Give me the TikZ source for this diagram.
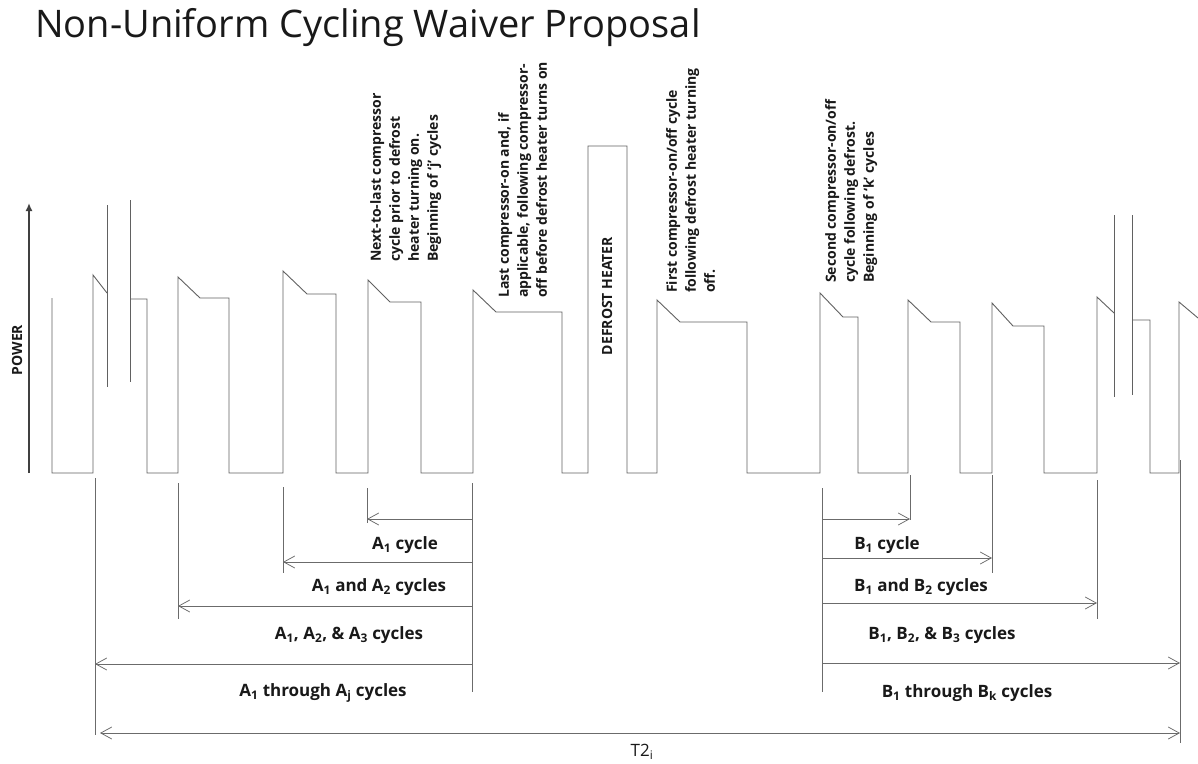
\documentclass[tikz,border=0pt]{standalone}
\usepackage{fontspec}
\setmainfont{Open Sans}
\usetikzlibrary{arrows.meta}
\begin{document}
\begin{tikzpicture}[x=1pt,y=-1pt,
  wave/.style={draw=black!62, line width=0.9pt, line join=miter},
  ext/.style={draw=black!58, line width=0.75pt},
  dim/.style={draw=black!58, line width=0.75pt, -{Straight Barb[length=11pt,width=12pt]}},
  ddim/.style={draw=black!58, line width=0.75pt, {Straight Barb[length=11pt,width=12pt]}-{Straight Barb[length=11pt,width=12pt]}},
  lbl/.style={font=\bfseries\fontsize{17}{19}\selectfont, inner sep=0pt, text=black!90},
  note/.style={rotate=90, anchor=north west, align=left, inner sep=0pt, text=black!90,
               font=\bfseries\fontsize{14}{19}\selectfont},
]
\useasboundingbox (0,0) rectangle (1198,763);
\fill[white] (0,0) rectangle (1198,763);

% title
\node[anchor=base west, inner sep=0pt, text=black!90, font=\fontsize{38}{42}\selectfont] (title) at (35,37) {Non-Uniform Cycling Waiver Proposal};

% axis
\coordinate (axb) at (29,473);
\coordinate (axt) at (29,203);
\draw[line width=1.8pt, black!75, -{Latex[length=8pt,width=7pt]}] (axb) -- (axt);
\node[rotate=90, inner sep=0pt, text=black!90, font=\bfseries\fontsize{14}{16}\selectfont] (power) at (17,350) {POWER};

% waveform
\draw[wave] (52,298) -- (52,473) -- (93,473) -- (93,275) -- (107,293);
\draw[wave] (107,205) -- (107,387);
\draw[wave] (130,200) -- (130,382);
\draw[wave] (130,299) -- (147,299) -- (147,473) -- (178,473) -- (178,277) -- (200,298) -- (229,298)
  -- (229,473) -- (283,473) -- (283,271) -- (307,294) -- (336,294) -- (336,473)
  -- (368,473) -- (368,280) -- (390,302) -- (421,302) -- (421,473)
  -- (473,473) -- (473,290) -- (496,312) -- (562,312) -- (562,473)
  -- (588,473) -- (588,146) -- (627,146) -- (627,473)
  -- (657,473) -- (657,300) -- (680,322) -- (747,322) -- (747,473)
  -- (820,473) -- (820,293) -- (843,317) -- (858,317) -- (858,473)
  -- (908,473) -- (908,300) -- (931,322) -- (960,322) -- (960,473)
  -- (992,473) -- (992,303) -- (1013,326) -- (1044,326) -- (1044,473)
  -- (1097,473) -- (1097,297) -- (1114,313);
\draw[wave] (1114,215) -- (1114,397);
\draw[wave] (1132,215) -- (1132,395);
\draw[wave] (1132,320) -- (1150,320) -- (1150,473) -- (1179,473) -- (1179,302) -- (1198,318);

% annotations
\node[note] (n1) at (370,262) {Next-to-last compressor\\cycle prior to defrost\\heater turning on.\\Beginning of ‘j’ cycles};
\node[note] (n2) at (498,298) {Last compressor-on and, if\\applicable, following compressor-\\off before defrost heater turns on};
\node[rotate=90, inner sep=0pt, text=black!90, font=\bfseries\fontsize{14}{19}\selectfont] (dh) at (607,296) {DEFROST HEATER};
\node[note] (n3) at (666,293) {First compressor-on/off cycle\\following defrost heater turning\\off.};
\node[note] (n4) at (825,283) {Second compressor-on/off\\cycle following defrost.\\Beginning of ‘k’ cycles};

% extension lines
\foreach \x/\t/\b [count=\i] in {95/478/735, 178/483/619, 283/487/573, 367/488/523, 472/483/692,
                                 822/488/692, 910/475/520, 992/475/573, 1097/480/619, 1180/460/743}
  {\draw[ext] (\x,\t) coordinate (e\i t) -- (\x,\b) coordinate (e\i b);}

% A side
\draw[dim] (e5t |- 0,519) -- (e4t |- 0,519);
\draw[dim] (e5t |- 0,562) -- (e3t |- 0,562);
\draw[dim] (e5t |- 0,606) -- (e2t |- 0,606);
\draw[dim] (e5t |- 0,664) -- (e1t |- 0,664);
\node[lbl] (la1) at (405,545) {A\textsubscript{1} cycle};
\node[lbl] (la2) at (379,587) {A\textsubscript{1} and A\textsubscript{2} cycles};
\node[lbl] (la3) at (349,635) {A\textsubscript{1}, A\textsubscript{2}, \& A\textsubscript{3} cycles};
\node[lbl] (la4) at (323,693) {A\textsubscript{1} through A\textsubscript{j} cycles};

% B side
\draw[dim] (e6t |- 0,519) -- (e7t |- 0,519);
\draw[dim] (e6t |- 0,558) -- (e8t |- 0,558);
\draw[dim] (e6t |- 0,603) -- (e9t |- 0,603);
\draw[dim] (e6t |- 0,663) -- (e10t |- 0,663);
\node[lbl] (lb1) at (887,545) {B\textsubscript{1} cycle};
\node[lbl] (lb2) at (921,587) {B\textsubscript{1} and B\textsubscript{2} cycles};
\node[lbl] (lb3) at (942,635) {B\textsubscript{1}, B\textsubscript{2}, \& B\textsubscript{3} cycles};
\node[lbl] (lb4) at (967,693) {B\textsubscript{1} through B\textsubscript{k} cycles};

% total
\coordinate (tl) at (100,733);
\draw[ddim] (tl) -- (e10t |- tl);
\node[inner sep=0pt, text=black!90, font=\fontsize{17}{19}\selectfont] (t2) at (642,752) {T2\textsubscript{i}};
\end{tikzpicture}
\end{document}
